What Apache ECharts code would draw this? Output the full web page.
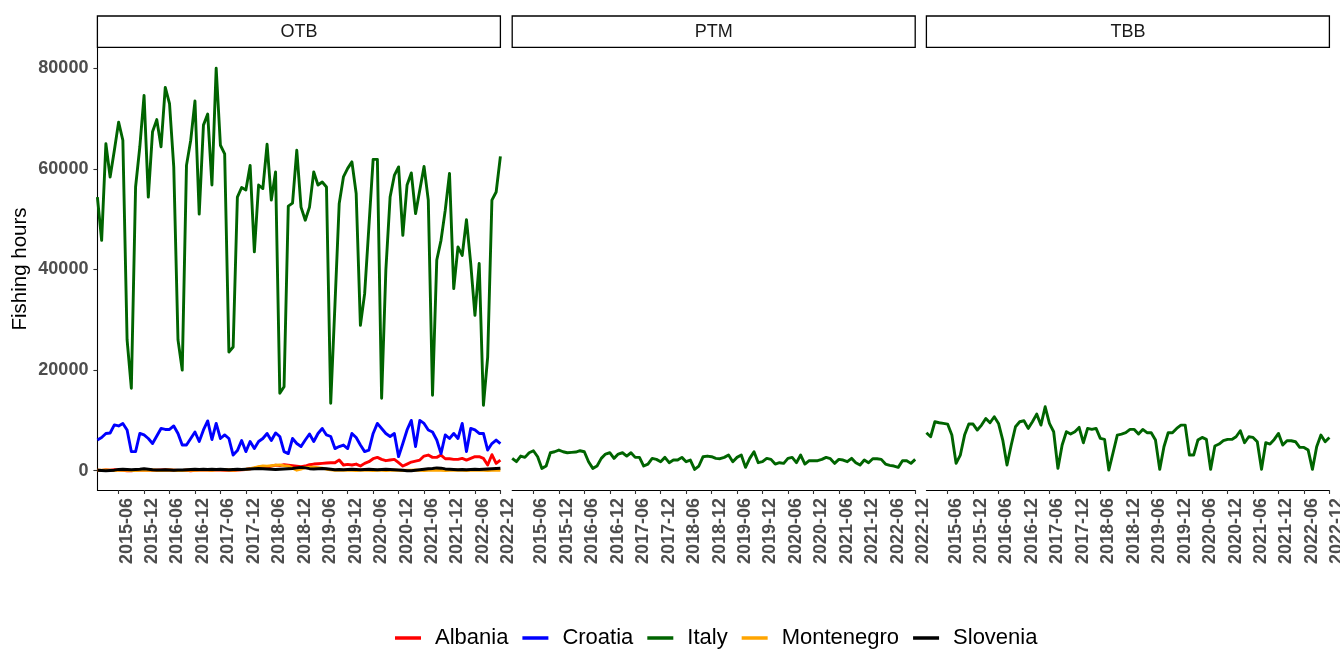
<!DOCTYPE html>
<html>
<head>
<meta charset="utf-8">
<script src="https://cdn.jsdelivr.net/npm/echarts@6/dist/echarts.min.js"></script>
<style>html,body{margin:0;padding:0;background:#fff;}#c{width:1340px;height:650px;}</style>
</head>
<body>
<div id="c"></div>
<script>
// ---- categories ----
const years = [2015, 2016, 2017, 2018, 2019, 2020, 2021, 2022];
const monthNames = ['01','02','03','04','05','06','07','08','09','10','11','12'];
const months = [];
years.forEach(y => monthNames.forEach(m => months.push(y + '-' + m)));
const xTickLabels = ['2015-06','2015-12','2016-06','2016-12','2017-06','2017-12','2018-06','2018-12',
  '2019-06','2019-12','2020-06','2020-12','2021-06','2021-12','2022-06','2022-12'];
const yTickValues = [0, 20000, 40000, 60000, 80000];
const panels = ['OTB', 'PTM', 'TBB'];
const countries = ['Albania', 'Croatia', 'Italy', 'Montenegro', 'Slovenia'];

// ---- OTB series ----
const albaniaOTB = [
  100, 50, 150, 100, 200, 150, 100, 0, 0, 100, 150, 200,
  150, 100, 100, 150, 200, 150, 100, 50, 50, 100, 0, 100,
  150, 200, 150, 100, 200, 150, 100, 100, 50, 150, 200, 250,
  400, 500, 700, 800, 700, 900, 1100, 1000, 1200, 1100, 1000, 900,
  790, 930, 1190, 1320, 1390, 1460, 1520, 1590, 1590, 2120, 1130, 1260,
  1130, 1320, 930, 1460, 1790, 2380, 2650, 2250, 1990, 2120, 2250, 1590,
  930, 1320, 1720, 1920, 2120, 2910, 3110, 2650, 2650, 3110, 2380, 2380,
  2250, 2250, 2450, 2120, 2450, 2780, 2780, 2450, 1130, 3180, 1460, 2120
];
const croatiaOTB = [
  6100, 6600, 7400, 7500, 9100, 8900, 9400, 8100, 3800, 3800, 7400, 7100,
  6400, 5400, 6900, 8400, 8200, 8200, 8900, 7400, 5100, 5100, 6400, 7700,
  5800, 8100, 9900, 6200, 9400, 6400, 7100, 6400, 3100, 4000, 6000, 3800,
  5800, 4400, 5800, 6400, 7400, 6000, 7500, 6800, 3800, 3400, 6400, 5400,
  4800, 6100, 7300, 5800, 7400, 8400, 7100, 6800, 4400, 4800, 5100, 4400,
  7400, 6600, 5100, 3800, 4100, 7400, 9400, 8400, 7400, 6800, 7400, 2800,
  5400, 8100, 10000, 4800, 10000, 9400, 8100, 7700, 6100, 3400, 7100, 6400,
  7400, 6400, 9400, 3800, 8400, 8100, 7400, 7400, 4100, 5400, 6100, 5400
];
const italyOTB = [
  54400, 45800, 65000, 58400, 63700, 69300, 65700, 26000, 16400, 56400, 64400, 74600,
  54400, 67400, 69800, 64400, 76200, 73000, 60400, 26000, 20000, 60700, 65700, 73500,
  51000, 68700, 70900, 56800, 80000, 64700, 63000, 23600, 24600, 54400, 56300, 55800,
  60700, 43500, 56800, 56100, 64900, 53800, 59400, 15400, 16700, 52600, 53200, 63700,
  52400, 49800, 52400, 59400, 56800, 57400, 56400, 13400, 33000, 53100, 58400, 60100,
  61400, 55100, 28900, 35200, 48500, 61900, 61900, 14400, 39900, 54400, 58700, 60400,
  46800, 56800, 59200, 51100, 55800, 60500, 53800, 15000, 41900, 45800, 51800, 59100,
  36200, 44500, 42800, 49900, 41200, 30900, 41200, 13000, 22600, 53800, 55400, 62500
];
const montenegroOTB = [
  100, 100, 150, 100, 50, 100, 150, 100, 50, 50, 100, 150,
  100, 150, 100, 50, 100, 150, 100, 50, 50, 100, 150, 100,
  150, 200, 150, 100, 200, 250, 200, 150, 100, 200, 250, 300,
  400, 600, 800, 950, 900, 1000, 1100, 1150, 1000, 900, 500, 100,
  300, 600, 700, 700, 600, 500, 300, 200, 100, 150, 100, 100,
  100, 50, 100, 150, 100, 50, 100, 100, 50, 100, 150, 100,
  50, 100, 100, 150, 100, 50, 100, 100, 150, 100, 50, 100,
  100, 150, 100, 50, 100, 100, 150, 100, 50, 100, 150, 100
];
const sloveniaOTB = [
  100, 50, 0, 50, 100, 250, 300, 250, 200, 250, 300, 400,
  300, 200, 150, 150, 200, 150, 100, 150, 150, 200, 250, 300,
  250, 300, 250, 300, 250, 300, 250, 200, 250, 300, 250, 300,
  350, 400, 450, 400, 350, 300, 250, 300, 350, 400, 450, 550,
  650, 550, 400, 350, 400, 450, 400, 300, 200, 250, 200, 250,
  300, 250, 200, 250, 300, 250, 200, 250, 300, 250, 200, 150,
  100, 0, 0, 100, 200, 300, 400, 450, 550, 500, 350, 300,
  250, 200, 250, 200, 250, 300, 250, 300, 350, 400, 450, 500
];
// ---- PTM / TBB (Italy only) ----
const italyPTM = [
  2450, 1790, 2910, 2650, 3570, 3970, 2780, 460, 930, 3570, 3770, 4100,
  3770, 3570, 3640, 3710, 3970, 3770, 1790, 460, 930, 2450, 3310, 3570,
  2450, 3310, 3570, 2910, 3570, 2650, 2650, 930, 1320, 2450, 2250, 1790,
  2650, 1590, 2120, 2120, 2650, 1790, 2120, 260, 930, 2780, 2910, 2780,
  2450, 2380, 2650, 3110, 1790, 2650, 3110, 660, 2450, 3770, 1590, 1790,
  2450, 2250, 1320, 1590, 1460, 2450, 2650, 1590, 3110, 1320, 1990, 1990,
  1990, 2250, 2650, 2380, 1460, 2250, 2120, 1790, 2450, 1590, 1130, 2120,
  1590, 2380, 2380, 2250, 1320, 1060, 930, 660, 1990, 1990, 1460, 2250
];
const italyTBB = [
  7550, 6750, 9730, 9530, 9400, 9270, 7080, 1460, 3110, 7080, 9270, 9270,
  8080, 9070, 10390, 9530, 10720, 9400, 6090, 1130, 5100, 8740, 9730, 9930,
  8410, 9730, 11250, 9070, 12710, 9400, 7750, 460, 5100, 7750, 7280, 7750,
  8610, 5560, 8410, 8210, 8410, 6420, 6220, 130, 3570, 7080, 7280, 7550,
  8210, 8210, 7280, 8210, 7550, 7550, 6090, 260, 4770, 7550, 7550, 8410,
  9070, 9070, 3110, 3110, 6090, 6620, 6220, 260, 4900, 5300, 5960, 6220,
  6220, 6750, 7940, 5560, 6750, 6620, 5760, 260, 5560, 5300, 6220, 7410,
  5100, 5960, 5960, 5760, 4630, 4630, 4100, 260, 4770, 7080, 5760, 6620
];

const colors = { Albania: '#FF0000', Croatia: '#0000FF', Italy: '#006400', Montenegro: '#FFA500', Slovenia: '#000000' };
const FONT = '"Liberation Sans", Arial, sans-serif';

const gridLefts = [97.4, 512.2, 926.4];
const gridWidth = 403;
const gridTop = 48;
const gridHeight = 442;
const yMin = -3837, yMax = 84036;

const grids = gridLefts.map(l => ({ left: l, top: gridTop, width: gridWidth, height: gridHeight,
  containLabel: false, outerBoundsMode: 'none' }));

const showTick = (idx) => xTickLabels.indexOf(months[idx]) >= 0;

const xAxes = gridLefts.map((l, i) => ({
  type: 'category', gridIndex: i, data: months, boundaryGap: false,
  axisLine: { show: true, onZero: false, lineStyle: { color: '#000', width: 1.1 } },
  axisTick: { show: true, length: 4, lineStyle: { color: '#333', width: 1.1 }, interval: showTick },
  axisLabel: { show: true, rotate: 90, margin: 8, color: '#4D4D4D', fontWeight: 'bold',
    fontSize: 18, fontFamily: FONT, verticalAlign: 'top', lineHeight: 16, hideOverlap: false,
    interval: showTick },
  splitLine: { show: false }
}));

const yAxes = gridLefts.map((l, i) => ({
  type: 'value', gridIndex: i, min: yMin, max: yMax, show: i === 0,
  axisLine: { show: i === 0, lineStyle: { color: '#000', width: 1.1 } },
  axisTick: { show: i === 0, length: 4, lineStyle: { color: '#333', width: 1.1 }, customValues: yTickValues },
  axisLabel: { show: i === 0, margin: 9, color: '#4D4D4D', fontWeight: 'bold', fontSize: 18,
    fontFamily: FONT, customValues: yTickValues, formatter: v => String(v) },
  splitLine: { show: false }
}));

function line(name, data, gi) {
  return {
    type: 'line', name: name, data: data, xAxisIndex: gi, yAxisIndex: gi,
    showSymbol: false, symbol: 'none', smooth: false,
    lineStyle: { color: colors[name], width: 2.9, join: 'round' },
    itemStyle: { color: colors[name] }, emphasis: { disabled: true }
  };
}

const series = [
  line('Albania', albaniaOTB, 0),
  line('Croatia', croatiaOTB, 0),
  line('Italy', italyOTB, 0),
  line('Montenegro', montenegroOTB, 0),
  line('Slovenia', sloveniaOTB, 0),
  line('Italy', italyPTM, 1),
  line('Italy', italyTBB, 2)
];

const graphics = [];
panels.forEach((p, i) => {
  graphics.push({ type: 'rect', shape: { x: gridLefts[i], y: 16, width: gridWidth, height: 31.3 },
    style: { fill: '#fff', stroke: '#000', lineWidth: 1.3 }, silent: true });
  graphics.push({ type: 'text', x: gridLefts[i] + gridWidth / 2, y: 31.8,
    style: { text: p, fill: '#1A1A1A', fontSize: 18, fontFamily: FONT, textAlign: 'center', textVerticalAlign: 'middle' }, silent: true });
});
graphics.push({ type: 'text', x: 20, y: 269, rotation: Math.PI / 2,
  style: { text: 'Fishing hours', fill: '#000', fontSize: 20.5, fontFamily: FONT, textAlign: 'center', textVerticalAlign: 'middle' }, silent: true });

const chart = echarts.init(document.getElementById('c'), null, { renderer: 'canvas' });
chart.setOption({
  animation: false,
  backgroundColor: '#fff',
  grid: grids,
  xAxis: xAxes,
  yAxis: yAxes,
  legend: {
    data: countries, left: 395, top: 626, orient: 'horizontal', padding: 0,
    icon: 'rect', itemWidth: 26, itemHeight: 3.5, itemGap: 14,
    textStyle: { fontSize: 22, fontFamily: FONT, color: '#000', padding: [0, 0, 0, 9], lineHeight: 24 },
    selectedMode: false
  },
  graphic: graphics,
  series: series
});
</script>
</body>
</html>
